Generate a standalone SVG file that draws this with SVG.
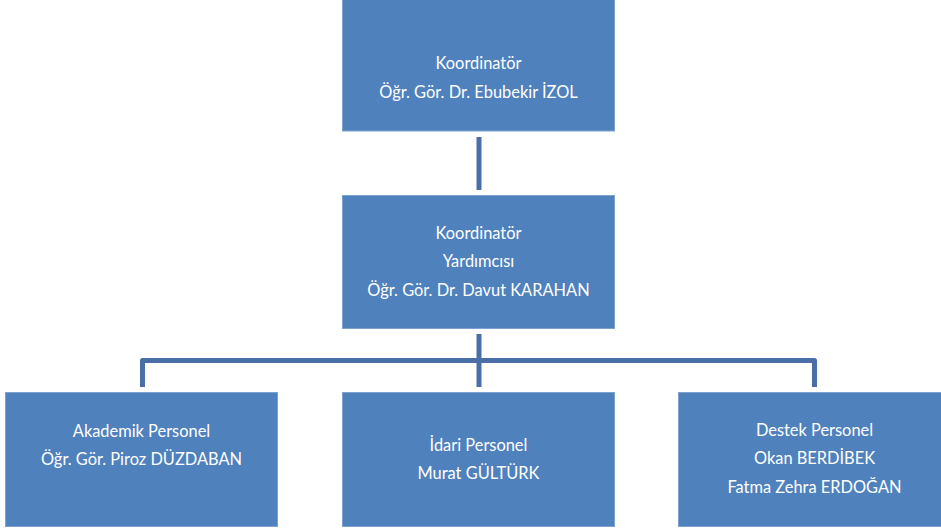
<svg xmlns="http://www.w3.org/2000/svg" width="941" height="530" viewBox="0 0 941 530">
<style>
.box{fill:#4F81BD;stroke:#7EA2D0;stroke-width:1}
.t{font-family:Lato,"Open Sans","Liberation Sans",sans-serif;font-size:16.4px;fill:#FFFFFF;text-anchor:middle}
.c{fill:none;stroke:#4A6FA8;stroke-width:5;stroke-linejoin:round}
</style>
<rect width="941" height="530" fill="#FFFFFF"/>
<g id="connectors">
<line class="c" x1="479" y1="137" x2="479" y2="190"/>
<line class="c" x1="479" y1="334" x2="479" y2="387"/>
<path class="c" d="M142.5,387 V360.5 H814.5 V387"/>
</g>
<g id="n1">
<rect class="box" x="342.5" y="-1" width="272" height="132"/>
<text class="t" x="478.5" y="69">Koordinatör</text>
<text class="t" x="478.5" y="98">Öğr. Gör. Dr. Ebubekir İZOL</text>
</g>
<g id="n2">
<rect class="box" x="342.5" y="195.5" width="272" height="133"/>
<text class="t" x="478.5" y="239">Koordinatör</text>
<text class="t" x="478.5" y="267">Yardımcısı</text>
<text class="t" x="478.5" y="296">Öğr. Gör. Dr. Davut KARAHAN</text>
</g>
<g id="n3">
<rect class="box" x="5.5" y="392.5" width="272" height="134"/>
<text class="t" x="141.5" y="437">Akademik Personel</text>
<text class="t" x="141.5" y="465">Öğr. Gör. Piroz DÜZDABAN</text>
</g>
<g id="n4">
<rect class="box" x="342.5" y="392.5" width="272" height="134"/>
<text class="t" x="478.5" y="451">İdari Personel</text>
<text class="t" x="478.5" y="479">Murat GÜLTÜRK</text>
</g>
<g id="n5">
<rect class="box" x="678.5" y="392.5" width="263" height="134"/>
<text class="t" x="814.5" y="436">Destek Personel</text>
<text class="t" x="814.5" y="464">Okan BERDİBEK</text>
<text class="t" x="814.5" y="493">Fatma Zehra ERDOĞAN</text>
</g>
</svg>
